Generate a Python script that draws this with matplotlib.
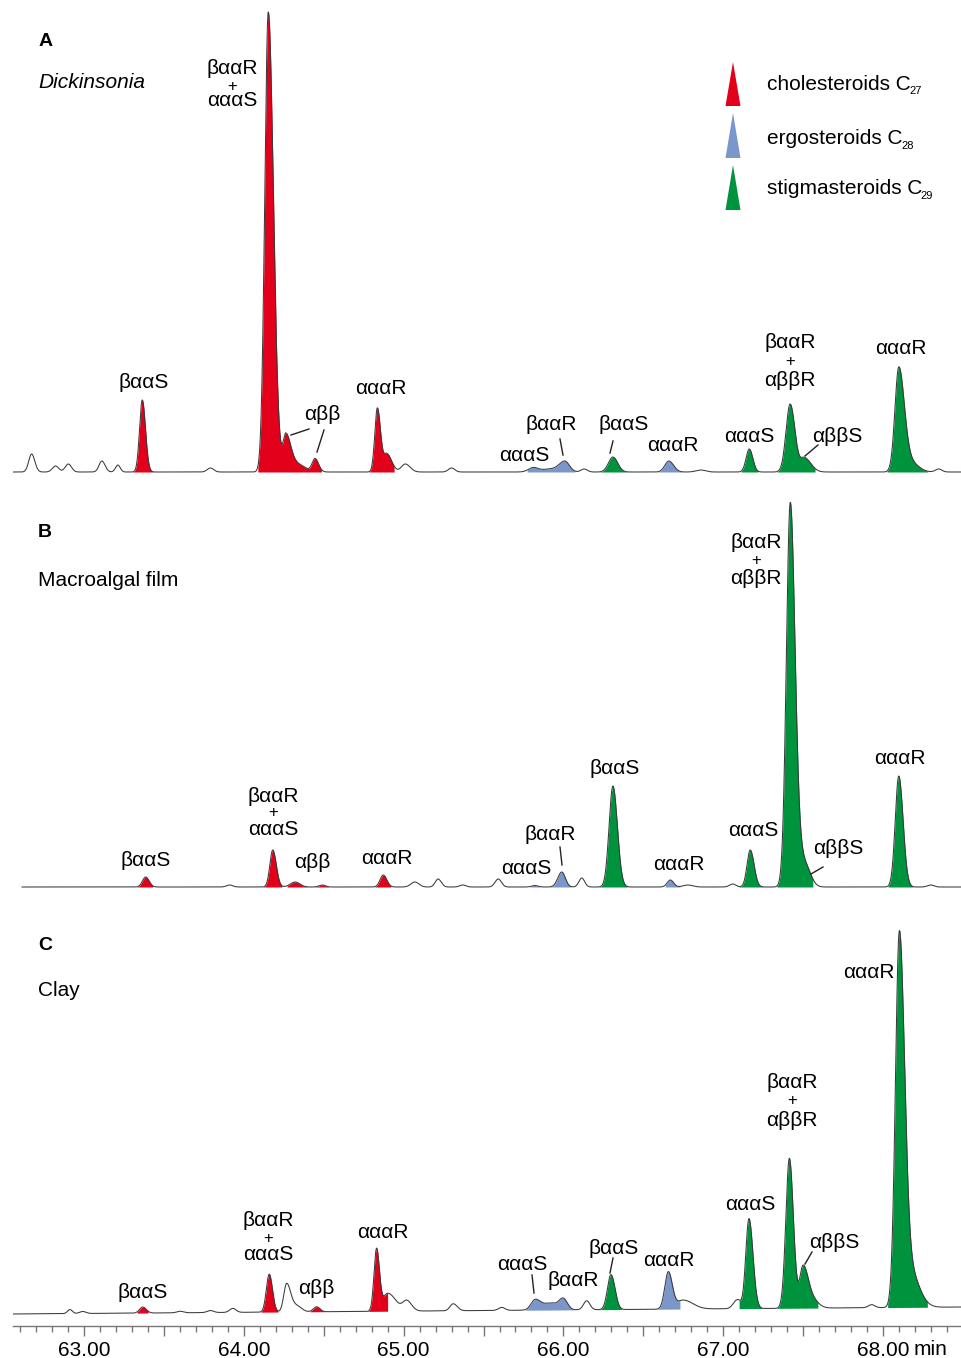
import numpy as np
import matplotlib
matplotlib.use('Agg')
import matplotlib.pyplot as plt
from matplotlib.lines import Line2D
from matplotlib.patches import Polygon

plt.rcParams['font.family'] = ['Liberation Sans', 'DejaVu Sans']

W, H = 962, 1358

# ---- data: peaks (rt in min, height, left width, right width) ----
PEAKS_A = [
    (62.67, 18, 0.018, 0.020), (62.82, 6, 0.020, 0.020), (62.90, 8, 0.020, 0.020),
    (63.11, 11, 0.018, 0.020), (63.21, 7, 0.015, 0.015), (63.79, 4, 0.020, 0.020),
    (63.363, 72, 0.017, 0.020),
    (64.152, 460, 0.022, 0.032), (64.262, 36, 0.018, 0.030), (64.33, 8, 0.040, 0.050),
    (64.445, 13, 0.018, 0.022),
    (64.835, 64, 0.016, 0.020), (64.895, 18, 0.020, 0.030),
    (65.01, 8, 0.025, 0.030), (65.30, 4, 0.020, 0.020),
    (65.81, 4, 0.030, 0.030), (66.01, 10, 0.035, 0.028), (65.92, 3, 0.060, 0.060),
    (66.13, 3, 0.020, 0.020),
    (66.31, 15, 0.028, 0.030),
    (66.66, 11, 0.025, 0.030), (66.86, 2, 0.030, 0.030),
    (67.164, 23, 0.020, 0.022),
    (67.42, 68, 0.026, 0.030), (67.51, 14, 0.025, 0.040),
    (68.10, 103, 0.024, 0.034), (68.17, 10, 0.040, 0.050), (68.35, 3, 0.020, 0.020),
]
PEAKS_B = [
    (63.91, 2, 0.020, 0.020), (63.384, 10, 0.020, 0.022),
    (64.18, 37, 0.018, 0.022), (64.32, 5, 0.030, 0.030), (64.49, 2, 0.020, 0.020),
    (64.872, 12, 0.020, 0.022),
    (65.07, 5, 0.025, 0.025), (65.215, 8, 0.018, 0.020), (65.37, 2, 0.020, 0.020),
    (65.592, 8, 0.020, 0.020),
    (65.82, 1.5, 0.020, 0.020), (65.99, 15, 0.025, 0.022), (66.115, 9, 0.018, 0.018),
    (66.31, 101, 0.024, 0.028),
    (66.67, 7, 0.020, 0.020), (66.78, 2, 0.030, 0.030), (67.06, 3, 0.020, 0.020),
    (67.17, 37, 0.020, 0.024),
    (67.42, 377, 0.024, 0.029), (67.47, 30, 0.030, 0.045), (67.53, 8, 0.030, 0.030),
    (68.10, 111, 0.022, 0.027), (68.30, 2, 0.020, 0.020),
]
PEAKS_C = [
    (62.91, 4, 0.015, 0.015), (62.99, 2, 0.020, 0.020), (63.60, 1.5, 0.020, 0.020),
    (63.79, 2, 0.020, 0.020), (63.93, 4, 0.020, 0.020),
    (63.366, 6, 0.020, 0.022),
    (64.158, 38, 0.018, 0.020), (64.267, 28, 0.018, 0.025), (64.33, 6, 0.030, 0.030),
    (64.455, 5, 0.020, 0.020),
    (64.83, 62, 0.016, 0.018), (64.90, 18, 0.030, 0.050),
    (65.02, 10, 0.025, 0.030), (65.31, 7, 0.020, 0.025), (65.614, 3, 0.020, 0.020),
    (65.822, 9, 0.025, 0.030), (66.00, 10, 0.025, 0.025), (65.92, 7, 0.060, 0.050),
    (66.146, 9, 0.020, 0.020),
    (66.298, 35, 0.022, 0.025),
    (66.657, 37, 0.022, 0.025), (66.75, 9, 0.040, 0.060),
    (67.09, 9, 0.025, 0.020), (67.162, 90, 0.020, 0.025),
    (67.415, 150, 0.022, 0.025), (67.50, 38, 0.020, 0.030), (67.55, 10, 0.040, 0.040),
    (67.93, 3, 0.020, 0.020),
    (68.103, 362, 0.024, 0.032), (68.16, 40, 0.040, 0.060),
]
BASE_C = [(62.55, -2), (68.50, 5)]

# shaded retention-time windows (start, end, class)
FILLS_A = [
    (63.30, 63.43, 'C27'), (64.086, 64.486, 'C27'), (64.783, 64.94, 'C27'),
    (65.772, 66.073, 'C28'), (66.592, 66.742, 'C28'),
    (66.229, 66.398, 'C29'), (67.112, 67.219, 'C29'), (67.338, 67.576, 'C29'), (68.026, 68.283, 'C29'),
]
FILLS_B = [
    (63.33, 63.43, 'C27'), (64.12, 64.237, 'C27'), (64.27, 64.53, 'C27'), (64.82, 64.92, 'C27'),
    (65.79, 65.85, 'C28'), (65.91, 66.047, 'C28'), (66.637, 66.73, 'C28'),
    (66.20, 66.40, 'C29'), (67.10, 67.26, 'C29'), (67.336, 67.562, 'C29'), (68.032, 68.188, 'C29'),
]
FILLS_C = [
    (63.33, 63.40, 'C27'), (64.106, 64.213, 'C27'), (64.413, 64.507, 'C27'), (64.768, 64.90, 'C27'),
    (65.76, 66.067, 'C28'), (66.578, 66.73, 'C28'),
    (66.216, 66.366, 'C29'), (67.10, 67.26, 'C29'), (67.33, 67.594, 'C29'), (68.03, 68.28, 'C29'),
]

COLORS = {'C27': '#e2001a', 'C28': '#7b96cb', 'C29': '#00933d'}
LEGEND = [('cholesteroids C', '27', 'C27'), ('ergosteroids C', '28', 'C28'),
          ('stigmasteroids C', '29', 'C29')]

# peak labels: text, x px, y px
LABELS = [
    ('βααS', 144, 383), ('βααR', 232, 68), ('+', 232, 86), ('αααS', 232, 101),
    ('αββ', 322, 415), ('αααR', 381, 388), ('αααS', 524, 456), ('βααR', 551, 425),
    ('βααS', 624, 424), ('αααR', 673, 446), ('αααS', 749, 436),
    ('βααR', 790, 343), ('+', 790, 362), ('αββR', 790, 381), ('αββS', 837, 436),
    ('αααR', 901, 349),
    ('βααS', 146, 860), ('βααR', 273, 796), ('+', 273, 813), ('αααS', 273, 829),
    ('αββ', 312, 862), ('αααR', 387, 858), ('αααS', 526, 868), ('βααR', 550, 834),
    ('βααS', 615, 768), ('αααR', 679, 864), ('αααS', 753, 830),
    ('βααR', 756, 542), ('+', 756, 560), ('αββR', 756, 578), ('αββS', 838, 848),
    ('αααR', 900, 758),
    ('βααS', 143, 1293), ('βααR', 268, 1221), ('+', 268, 1238), ('αααS', 268, 1254),
    ('αββ', 316, 1289), ('αααR', 383, 1233), ('αααS', 522, 1264), ('βααR', 573, 1281),
    ('βααS', 614, 1248), ('αααR', 669, 1261), ('αααS', 750, 1205),
    ('βααR', 792, 1083), ('+', 792, 1101), ('αββR', 792, 1120), ('αββS', 834, 1242),
    ('αααR', 869, 972),
]
LEADERS = [
    ((291, 435), (309, 429)), ((324, 430), (317, 452)), ((560, 439), (563, 455)),
    ((613, 441), (610, 453)), ((818, 445), (805, 456)),
    ((560, 847), (562, 865)), ((823, 867), (811, 874)),
    ((532, 1275), (534, 1293)), ((613, 1258), (610, 1273)), ((812, 1252), (805, 1264)),
]


def fx(px):
    return px / W


def fy(py):
    return 1 - py / H


def trace(peaks, t):
    y = np.zeros_like(t)
    for rt, h, wl, wr in peaks:
        w = np.where(t < rt, wl, wr)
        y += h * np.exp(-0.5 * ((t - rt) / w) ** 2)
    return y


fig = plt.figure(figsize=(W / 100, H / 100), dpi=100)
xlim = (62.5535, 68.496)

panels = [
    (PEAKS_A, FILLS_A, 0, 480, 472, 62.5535, None),
    (PEAKS_B, FILLS_B, 480, 895, 887, 62.61, None),
    (PEAKS_C, FILLS_C, 895, 1326, 1312, 62.5535, BASE_C),
]
axes = []
for peaks, fills, top, bot, base, t0, drift in panels:
    ax = fig.add_axes([13 / W, (H - bot) / H, 949 / W, (bot - top) / H])
    ax.set_xlim(*xlim)
    ax.set_ylim(base - bot, base - top)
    t = np.linspace(t0, xlim[1], 6000)
    b = np.zeros_like(t)
    if drift is not None:
        b = np.interp(t, [p[0] for p in drift], [p[1] for p in drift])
    y = b + trace(peaks, t)
    for s, e, cls in fills:
        m = (t >= s) & (t <= e)
        ax.fill_between(t[m], b[m], y[m], color=COLORS[cls], lw=0, zorder=2)
    ax.plot(t, y, color='#3a3a3a', lw=0.75, zorder=3)
    for sp in ax.spines.values():
        sp.set_visible(False)
    ax.set_xticks([])
    ax.set_yticks([])
    axes.append(ax)

# bottom time axis
axC = axes[2]
axC.spines['bottom'].set_visible(True)
axC.spines['bottom'].set_color('#777777')
axC.spines['bottom'].set_linewidth(1.0)
major = np.arange(62.5, 68.6, 0.5)
axC.set_xticks(major)
axC.set_xticklabels(['%.2f' % v if abs(v - round(v)) < 1e-6 else '' for v in major])
axC.set_xticks(np.arange(62.6, 68.5, 0.1), minor=True)
axC.tick_params(axis='x', which='major', direction='out', length=7, width=1,
                color='#777777', pad=4, labelsize=15)
axC.tick_params(axis='x', which='minor', direction='out', length=4, width=1, color='#777777')
axC.set_xlim(*xlim)
fig.text(fx(914), fy(1355), 'min', fontsize=15, ha='left', va='baseline')

# panel titles
fig.text(fx(46), fy(42), 'A', fontsize=14, fontweight='bold', ha='center', va='center')
fig.text(fx(38), fy(83), 'Dickinsonia', fontsize=15, style='italic', ha='left', va='center')
fig.text(fx(45), fy(533), 'B', fontsize=14, fontweight='bold', ha='center', va='center')
fig.text(fx(38), fy(580), 'Macroalgal film', fontsize=15, ha='left', va='center')
fig.text(fx(45), fy(945), 'C', fontsize=14, fontweight='bold', ha='center', va='center')
fig.text(fx(38), fy(991), 'Clay', fontsize=15, ha='left', va='center')

for txt, x, y in LABELS:
    fs = 12 if txt == '+' else 15
    fig.text(fx(x), fy(y), txt, fontsize=fs, ha='center', va='center', zorder=5)
for (x0, y0), (x1, y1) in LEADERS:
    fig.add_artist(Line2D([fx(x0), fx(x1)], [fy(y0), fy(y1)], color='#222222', lw=1.0))

# legend
tri_y = [(62, 106), (113, 158), (165, 210)]
sub_y = [91, 146, 196]
txt_y = [85, 138, 189]
fig.canvas.draw()
renderer = fig.canvas.get_renderer()
for (label, sub, cls), (ya, yb), ys, yt in zip(LEGEND, tri_y, sub_y, txt_y):
    fig.add_artist(Polygon([(fx(725.5), fy(yb)), (fx(740.5), fy(yb)), (fx(733), fy(ya))],
                           closed=True, facecolor=COLORS[cls], edgecolor='none',
                           transform=fig.transFigure))
    tx = fig.text(fx(767), fy(yt), label, fontsize=15, ha='left', va='center')
    ext = tx.get_window_extent(renderer)
    fig.text(ext.x1 / W - 1.5 / W, fy(ys), sub, fontsize=8, ha='left', va='center')

fig.savefig('out.png', dpi=100)
